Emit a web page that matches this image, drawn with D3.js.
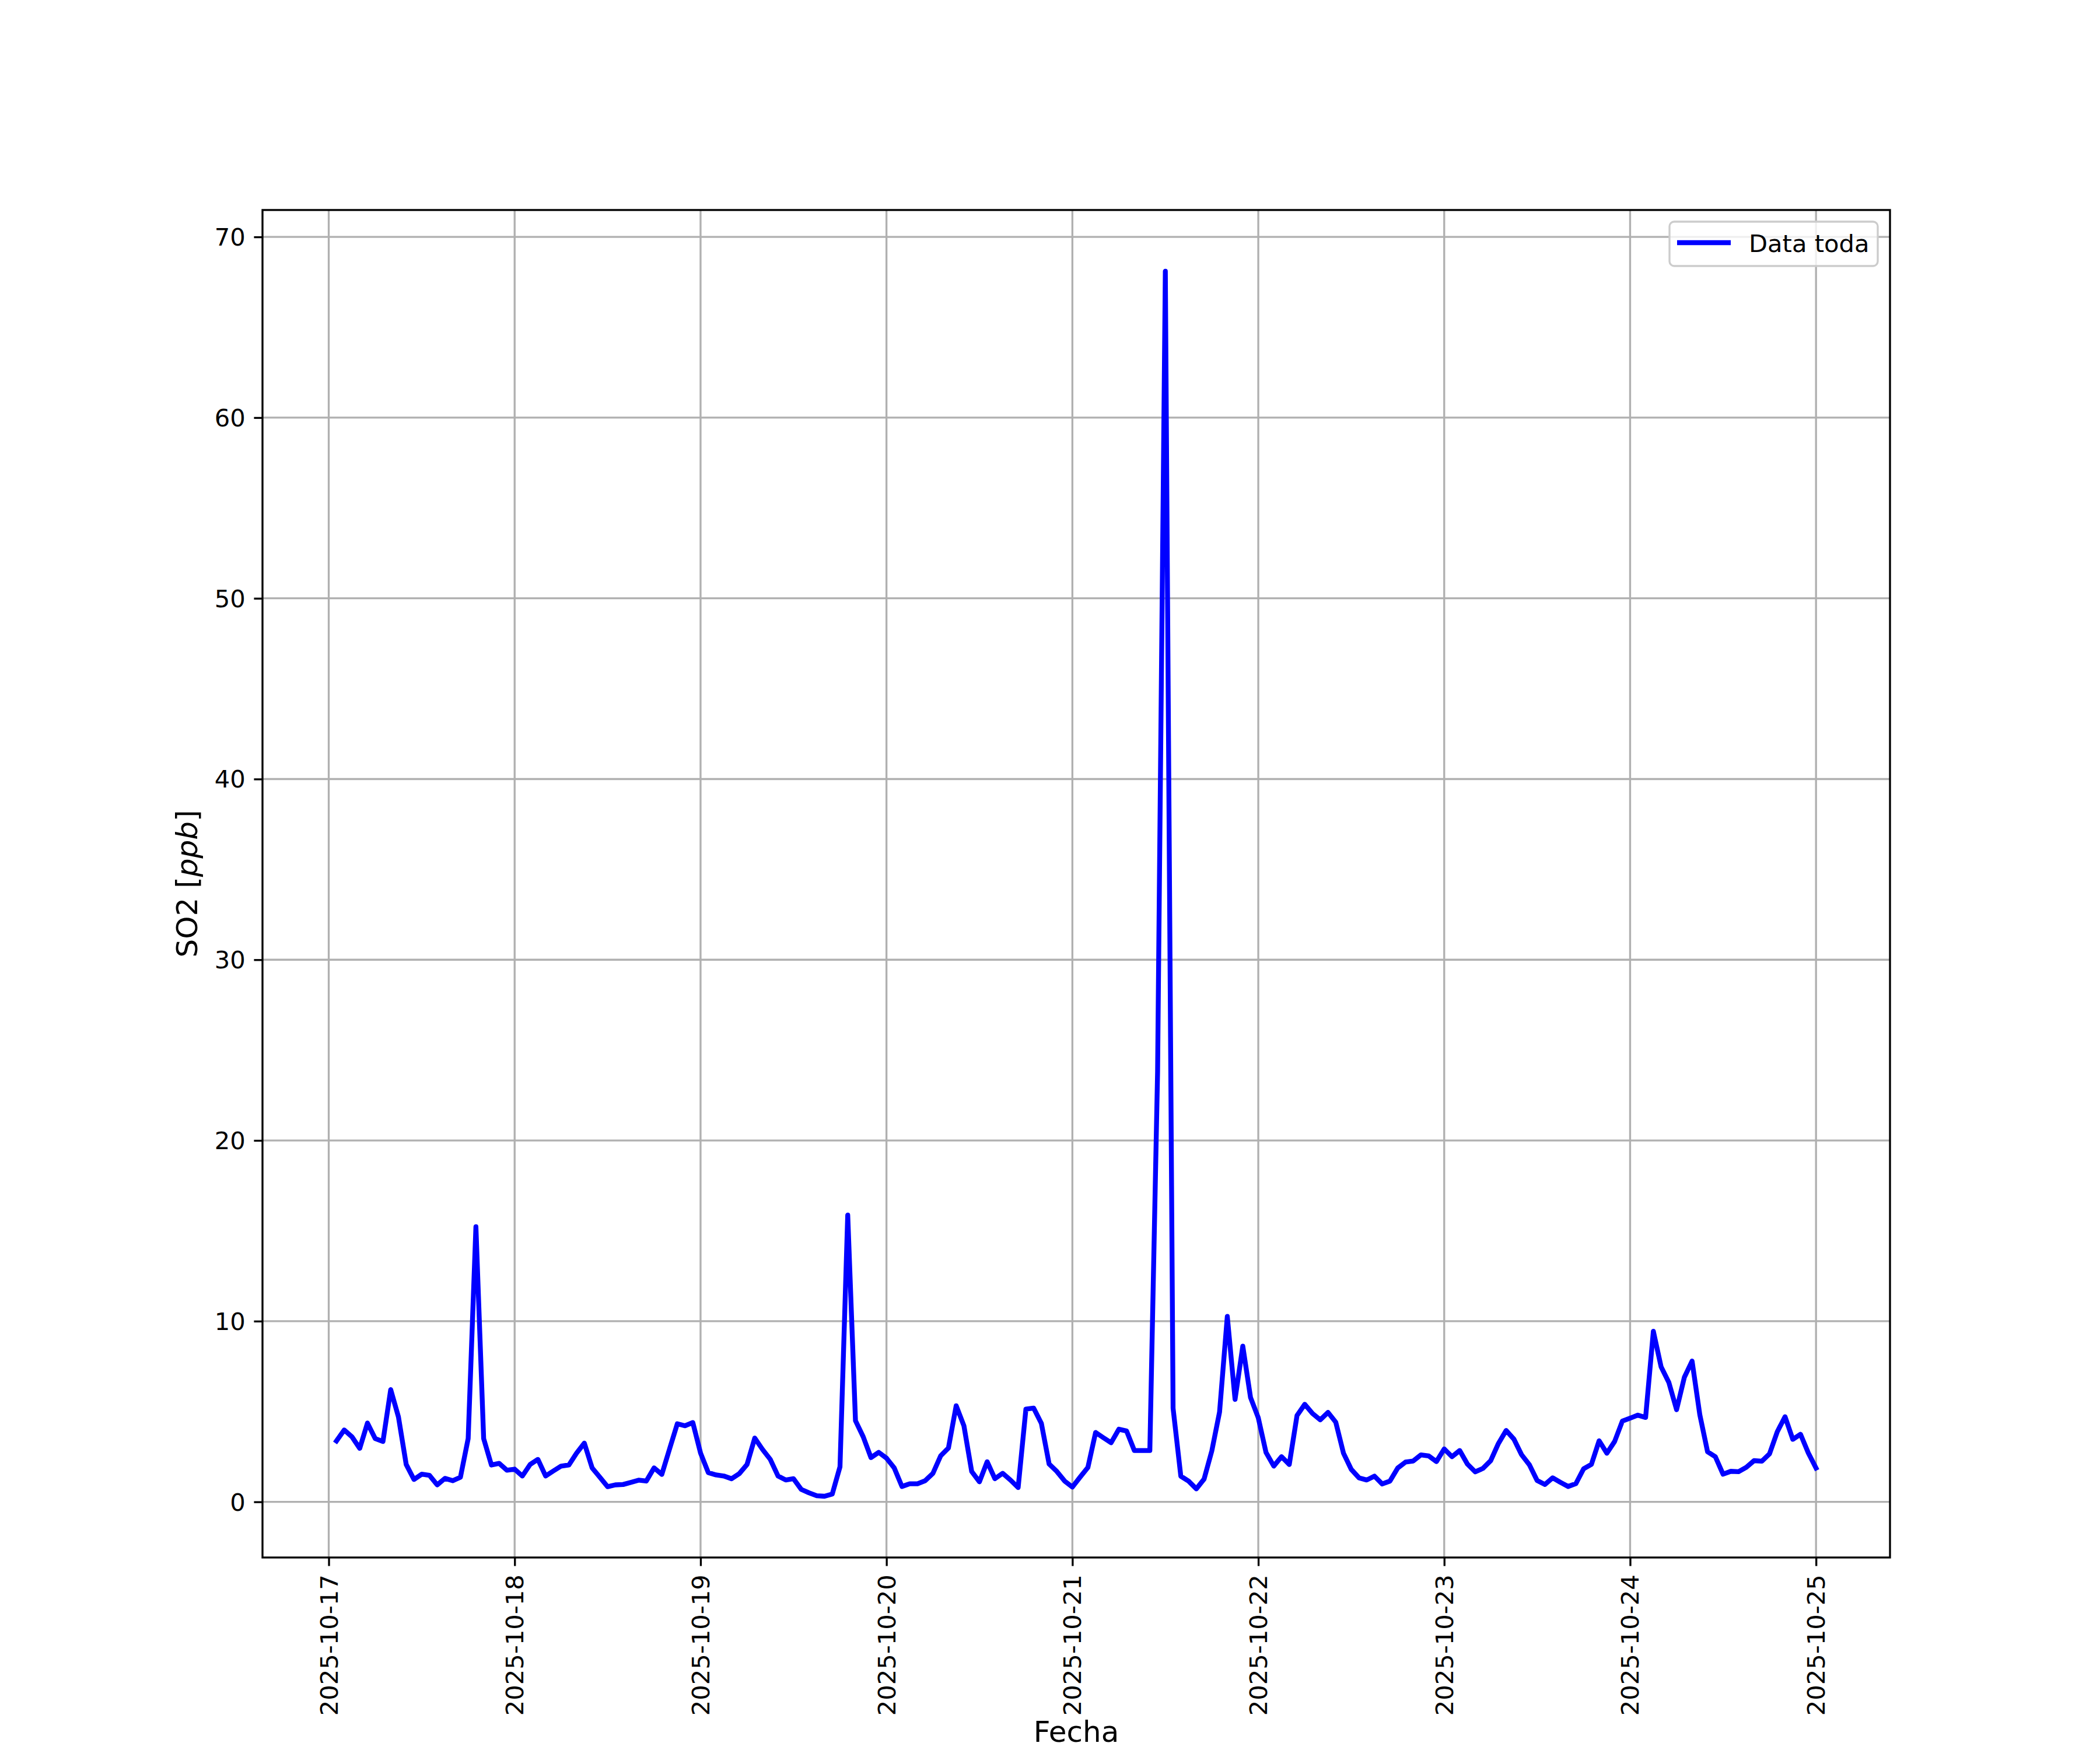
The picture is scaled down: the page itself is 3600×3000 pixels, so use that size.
<!DOCTYPE html>
<html>
<head>
<meta charset="utf-8">
<script src="https://cdn.jsdelivr.net/npm/d3@7"></script>
<style>
  html, body { margin: 0; padding: 0; background: #fff; }
  svg { display: block; }
  text { font-family: "DejaVu Sans", sans-serif; }
</style>
</head>
<body>
<svg id="chart" width="3600" height="3000"></svg>
<script>
// ---- Data (hourly SO2 ppb) ----
// 2025-10-17, hours 01..23
const day17 = [3.37, 3.98, 3.6, 2.96, 4.36, 3.5, 3.34, 6.21, 4.7, 2.07, 1.24, 1.53, 1.47, 0.94, 1.3, 1.17, 1.36, 3.5, 15.23, 3.5, 2.04, 2.13, 1.75];
// 2025-10-18 .. 2025-10-24, hours 00..23
const day18 = [1.81, 1.43, 2.07, 2.35, 1.43, 1.71, 1.98, 2.04, 2.7, 3.25, 1.88, 1.36, 0.84, 0.94, 0.96, 1.08, 1.2, 1.15, 1.88, 1.52, 2.93, 4.32, 4.21, 4.39];
const day19 = [2.7, 1.62, 1.49, 1.43, 1.28, 1.56, 2.07, 3.53, 2.9, 2.35, 1.43, 1.21, 1.28, 0.69, 0.5, 0.34, 0.31, 0.43, 1.94, 15.87, 4.49, 3.6, 2.45, 2.74];
const day20 = [2.42, 1.88, 0.85, 1.0, 1.0, 1.17, 1.58, 2.55, 2.98, 5.32, 4.21, 1.68, 1.11, 2.22, 1.28, 1.58, 1.21, 0.79, 5.13, 5.19, 4.34, 2.09, 1.68, 1.15];
const day21 = [0.82, 1.37, 1.9, 3.84, 3.55, 3.27, 4.02, 3.92, 2.84, 2.84, 2.84, 23.8, 68.1, 5.18, 1.42, 1.15, 0.72, 1.26, 2.82, 4.97, 10.26, 5.67, 8.62, 5.77];
const day22 = [4.65, 2.73, 1.98, 2.5, 2.07, 4.78, 5.4, 4.89, 4.54, 4.95, 4.41, 2.69, 1.8, 1.33, 1.21, 1.42, 0.99, 1.15, 1.87, 2.2, 2.26, 2.6, 2.54, 2.23];
const day23 = [2.93, 2.5, 2.84, 2.09, 1.66, 1.85, 2.28, 3.23, 3.95, 3.47, 2.6, 2.05, 1.18, 0.96, 1.33, 1.08, 0.85, 1.01, 1.83, 2.07, 3.38, 2.69, 3.34, 4.47];
const day24 = [4.63, 4.8, 4.67, 9.44, 7.47, 6.61, 5.1, 6.89, 7.79, 4.82, 2.77, 2.5, 1.53, 1.69, 1.67, 1.91, 2.28, 2.25, 2.66, 3.88, 4.71, 3.46, 3.74, 2.71];
// 2025-10-25 00:00
const day25 = [1.87];

const dayArrays = [
  {day: 17, firstHour: 1, values: day17},
  {day: 18, firstHour: 0, values: day18},
  {day: 19, firstHour: 0, values: day19},
  {day: 20, firstHour: 0, values: day20},
  {day: 21, firstHour: 0, values: day21},
  {day: 22, firstHour: 0, values: day22},
  {day: 23, firstHour: 0, values: day23},
  {day: 24, firstHour: 0, values: day24},
  {day: 25, firstHour: 0, values: day25}
];

const yTicks = [0, 10, 20, 30, 40, 50, 60, 70];
const xTickDays = [17, 18, 19, 20, 21, 22, 23, 24, 25];
const seriesLabel = "Data toda";
const xLabel = "Fecha";

// ---- Build points ----
const data = [];
dayArrays.forEach(d => {
  d.values.forEach((v, i) => {
    data.push({t: new Date(Date.UTC(2025, 9, d.day, d.firstHour + i)), v: v});
  });
});

// ---- Layout (matplotlib-like) ----
const W = 3600, H = 3000;
const L = 450, R = 3240, T = 360, B = 2670;
const px = 300 / 72; // points to px

const svg = d3.select("#chart");
svg.append("rect").attr("width", W).attr("height", H).attr("fill", "#fff");

const tMin = d3.min(data, d => d.t), tMax = d3.max(data, d => d.t);
const tSpan = tMax - tMin;
const x = d3.scaleUtc()
  .domain([new Date(+tMin - 0.05 * tSpan), new Date(+tMax + 0.05 * tSpan)])
  .range([L, R]);
const vMin = d3.min(data, d => d.v), vMax = d3.max(data, d => d.v);
const vSpan = vMax - vMin;
const y = d3.scaleLinear()
  .domain([vMin - 0.05 * vSpan, vMax + 0.05 * vSpan])
  .range([B, T]);

const xTicks = xTickDays.map(d => new Date(Date.UTC(2025, 9, d)));
const fmt = d3.utcFormat("%Y-%m-%d");

// Grid
const grid = svg.append("g");
grid.selectAll(".gx").data(xTicks).enter().append("line")
  .attr("x1", d => x(d)).attr("x2", d => x(d))
  .attr("y1", T).attr("y2", B)
  .attr("stroke", "#b0b0b0").attr("stroke-width", 0.8 * px);
grid.selectAll(".gy").data(yTicks).enter().append("line")
  .attr("x1", L).attr("x2", R)
  .attr("y1", d => y(d)).attr("y2", d => y(d))
  .attr("stroke", "#b0b0b0").attr("stroke-width", 0.8 * px);

// Line
const line = d3.line().x(d => x(d.t)).y(d => y(d.v));
svg.append("path").datum(data)
  .attr("d", line)
  .attr("fill", "none")
  .attr("stroke", "#0000ff")
  .attr("stroke-width", 2 * px)
  .attr("stroke-linejoin", "round")
  .attr("stroke-linecap", "square");

// Axes via d3
const tickLen = 3.5 * px, tickPad = 3.5 * px;
const xAxis = d3.axisBottom(x).tickValues(xTicks).tickFormat(fmt)
  .tickSize(tickLen).tickPadding(tickPad).tickSizeOuter(0);
const gx = svg.append("g").attr("transform", `translate(0,${B})`).call(xAxis);
gx.select(".domain").remove();
gx.selectAll(".tick line").attr("stroke", "#000").attr("stroke-width", 0.8 * px);
gx.selectAll(".tick text")
  .attr("font-size", 10 * px)
  .attr("font-family", "DejaVu Sans")
  .attr("fill", "#000")
  .attr("y", null).attr("dy", null)
  .attr("text-anchor", "end")
  .attr("dominant-baseline", "central")
  .attr("transform", `translate(0,${tickLen + tickPad}) rotate(-90)`);

const yAxis = d3.axisLeft(y).tickValues(yTicks).tickFormat(d3.format("d"))
  .tickSize(tickLen).tickPadding(tickPad).tickSizeOuter(0);
const gy = svg.append("g").attr("transform", `translate(${L},0)`).call(yAxis);
gy.select(".domain").remove();
gy.selectAll(".tick line").attr("stroke", "#000").attr("stroke-width", 0.8 * px);
gy.selectAll(".tick text")
  .attr("font-size", 10 * px)
  .attr("font-family", "DejaVu Sans")
  .attr("fill", "#000")
  .attr("dy", null)
  .attr("dominant-baseline", "central");

// Spines
svg.append("rect").attr("x", L).attr("y", T).attr("width", R - L).attr("height", B - T)
  .attr("fill", "none").attr("stroke", "#000").attr("stroke-width", 0.8 * px);

// Axis labels
svg.append("text").attr("x", (L + R) / 2).attr("y", 2986)
  .attr("text-anchor", "middle").attr("font-size", 12 * px).attr("fill", "#000")
  .text(xLabel);

const yl = svg.append("text")
  .attr("transform", `translate(338,${(T + B) / 2}) rotate(-90)`)
  .attr("text-anchor", "middle").attr("font-size", 12 * px).attr("fill", "#000");
yl.append("tspan").text("SO2 [");
yl.append("tspan").attr("font-style", "italic").text("ppb");
yl.append("tspan").text("]");

// Legend
const lg = svg.append("g");
lg.append("rect").attr("x", 2862).attr("y", 380).attr("width", 357).attr("height", 76)
  .attr("rx", 8).attr("ry", 8)
  .attr("fill", "rgba(255,255,255,0.8)").attr("stroke", "#cccccc").attr("stroke-width", 0.8 * px);
lg.append("line").attr("x1", 2875).attr("x2", 2967).attr("y1", 416).attr("y2", 416)
  .attr("stroke", "#0000ff").attr("stroke-width", 2 * px);
lg.append("text").attr("x", 2998).attr("y", 432).attr("font-size", 10 * px).attr("fill", "#000")
  .text(seriesLabel);
</script>
</body>
</html>
